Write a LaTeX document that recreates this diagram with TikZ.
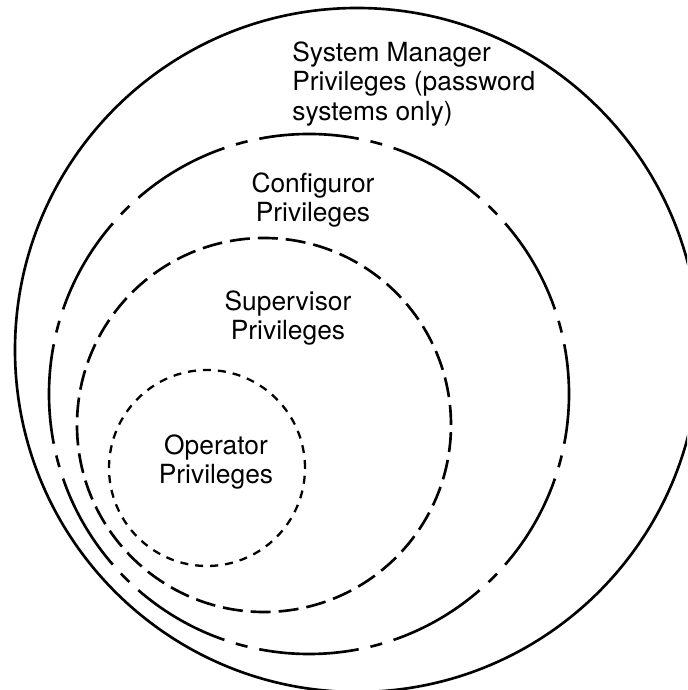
\documentclass[tikz,border=0pt]{standalone}
\usepackage{fontspec}
\setmainfont{TeX Gyre Heros}
\usepackage{xcolor}
\usepackage{tikz}
\definecolor{ink}{RGB}{0, 0, 0}

\begin{document}
\begin{tikzpicture}[scale=1,
  ring/.style={ink,line width=1.5pt},
  lvlconf/.style={ring,dash pattern=on 2.0cm off 0.241cm on 0.241cm off 0.241cm,dash phase=1cm},
  lvlsup/.style={ring,dash pattern=on 0.4cm off 0.16cm},
  lvlop/.style={ring,line width=1.3pt,dash pattern=on 0.16cm off 0.14cm},
  lbl/.style={font=\fontsize{15}{17}\selectfont,inner sep=0pt}]
\clip (0,0) rectangle (13.74,13.8);
\coordinate (Cman) at (7.14,6.80);
\coordinate (Cconf) at (6.18,5.92);
\coordinate (Csup) at (5.28,5.30);
\coordinate (Cop) at (4.14,4.44);
\draw[ring] (Cman) circle (6.84);
\draw[lvlconf] (Cconf) circle (5.20);
\draw[lvlsup] (Csup) circle (3.74);
\draw[lvlop] (Cop) circle (1.96);
\node[lbl,anchor=west,align=left] (man) at (5.84,12.12) {System Manager\\Privileges (password\\systems only)};
\node[lbl,align=center] (conf) at (6.26,9.80) {Configuror\\Privileges};
\node[lbl,align=center] (sup) at (5.76,7.44) {Supervisor\\Privileges};
\node[lbl,align=center] (op) at (4.32,4.56) {Operator\\Privileges};
\end{tikzpicture}
\end{document}
